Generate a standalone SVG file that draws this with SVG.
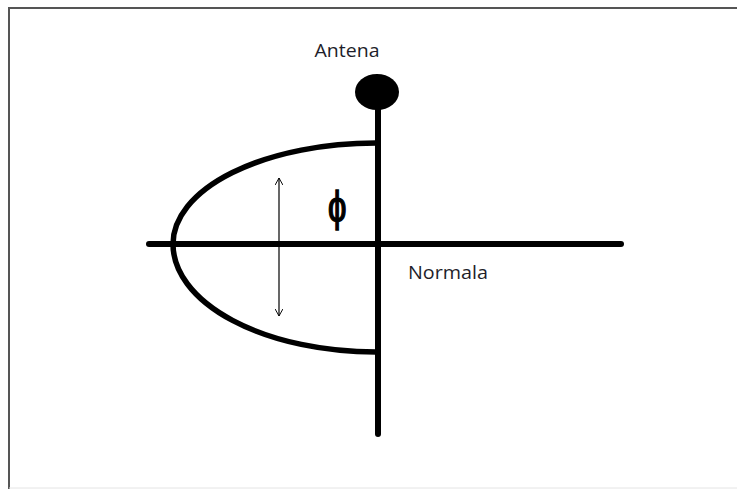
<svg xmlns="http://www.w3.org/2000/svg" width="737" height="489" viewBox="0 0 737 489">
<style>
.thick{stroke:#000;stroke-width:6;stroke-linecap:round;fill:none}
.curve{stroke:#000;stroke-width:5.5;fill:none}
.lbl{font-family:"Open Sans","Liberation Sans",sans-serif;font-size:18px;fill:#1e1e2a}
</style>
<defs>
<marker id="ah" viewBox="0 0 10 10" refX="9" refY="5" markerWidth="8" markerHeight="8" orient="auto-start-reverse" markerUnits="userSpaceOnUse">
<path d="M0,0 L9,5 L0,10" fill="none" stroke="#000" stroke-width="1.2"/>
</marker>
</defs>
<rect width="737" height="489" fill="#fff"/>
<path d="M9,489 V8 H737" fill="none" stroke="#555" stroke-width="2"/>
<line x1="9" y1="488" x2="737" y2="488" stroke="#e4e4e4" stroke-width="1"/>
<g id="connectors">
<line class="thick" x1="378" y1="100" x2="378" y2="434"/>
<line class="thick" x1="149" y1="244" x2="621" y2="244"/>
<path class="curve" d="M376,143 A203 101 0 0 0 173 244 A203 108 0 0 0 376 352"/>
<line x1="279" y1="178" x2="279" y2="316" stroke="#000" stroke-width="1.2" marker-start="url(#ah)" marker-end="url(#ah)"/>
</g>
<g id="antenna">
<ellipse cx="377" cy="92" rx="22" ry="18" fill="#000"/>
<text class="lbl" x="347" y="57" text-anchor="middle" textLength="65" lengthAdjust="spacingAndGlyphs">Antena</text>
</g>
<g id="normal">
<text class="lbl" x="408" y="279" textLength="80" lengthAdjust="spacingAndGlyphs">Normala</text>
</g>
<g id="phi">
<text transform="translate(337,221) scale(0.85,1.08)" x="0" y="0" text-anchor="middle" font-family="Liberation Sans, sans-serif" font-size="40" fill="#000" stroke="#000" stroke-width="1.2">ɸ</text>
</g>
</svg>
